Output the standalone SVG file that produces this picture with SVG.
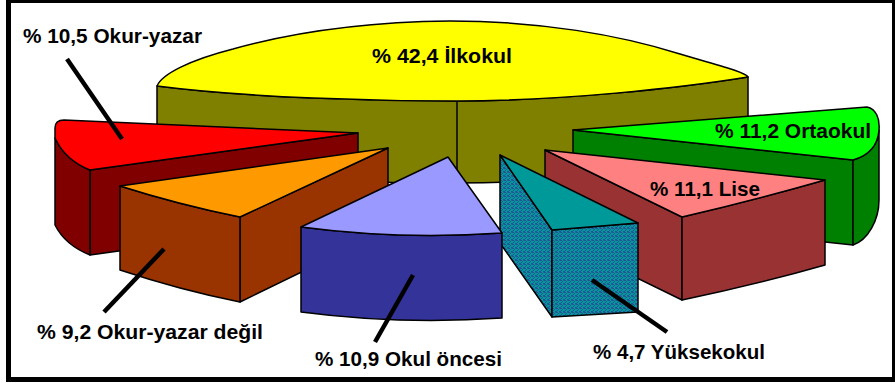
<svg xmlns="http://www.w3.org/2000/svg" width="895" height="383" viewBox="0 0 895 383">
<defs>
<pattern id="dith" width="4" height="4" patternUnits="userSpaceOnUse">
<rect width="4" height="4" fill="#009a9a"/>
<rect x="0" y="0" width="1" height="1" fill="#2a4f9a"/>
<rect x="2" y="1" width="1" height="1" fill="#2a4f9a"/>
<rect x="1" y="2" width="1" height="1" fill="#2a4f9a"/>
<rect x="3" y="3" width="1" height="1" fill="#2a4f9a"/>
<rect x="3" y="0" width="1" height="1" fill="#1d6f8a"/>
<rect x="1" y="0" width="1" height="1" fill="#2a4f9a"/>
<rect x="0" y="3" width="1" height="1" fill="#2a4f9a"/>
</pattern>
<style>
.s{stroke:#000;stroke-width:1.5;stroke-linejoin:round}
.t{font-family:"Liberation Sans",Arial,sans-serif;font-weight:bold;font-size:21px;fill:#000}
.ld{stroke:#000;stroke-width:4.5;fill:none}
</style>
</defs>
<rect width="895" height="383" fill="#fff"/>
<rect x="8.5" y="0.5" width="886" height="379" fill="none" stroke="#000" stroke-width="5"/>

<g id="ilkokul">
<path class="s" fill="#808000" d="M157,86 C250,98 380,101 457,101 C560,101 680,88 748,77 L748,160 C680,171 560,183 457,183 C380,183 250,180 157,168 Z"/>
<path class="s" fill="none" d="M457,101 L457,183"/>
<path class="s" fill="#ffff00" d="M157,86 C162,74 190,60 233,49 C290,33 360,22 450,21 C540,21 620,35 680,54 C720,66 745,72 748,77 C680,88 560,101 457,101 C380,101 250,98 157,86 Z"/>
<text class="t" x="372" y="63" textLength="140" lengthAdjust="spacingAndGlyphs">% 42,4 İlkokul</text>
</g>

<g id="ortaokul">
<path class="s" fill="#008000" d="M573,130 L853,160 L853,245 L573,215 Z"/>
<path class="s" fill="#008000" d="M853,160 C870,155 878,145 879,130 L879,200 C879,220 868,240 853,245 Z"/>
<path class="s" fill="#00ff00" d="M573,130 L867,107 C876,109 880,118 879,130 C878,145 870,155 853,160 Z"/>
<text class="t" x="715" y="138" textLength="156" lengthAdjust="spacingAndGlyphs">% 11,2 Ortaokul</text>
</g>

<g id="lise">
<path class="s" fill="#993333" d="M545,150 L682,217 L682,300 L545,233 Z"/>
<path class="s" fill="#993333" d="M682,217 Q755,200 825,180 L825,265 Q755,285 682,300 Z"/>
<path class="s" fill="#ff8080" d="M545,150 L825,180 Q755,200 682,217 Z"/>
<text class="t" x="650" y="196" textLength="110" lengthAdjust="spacingAndGlyphs">% 11,1 Lise</text>
</g>

<g id="yuksekokul">
<path class="s" fill="url(#dith)" d="M500,155 L552,230 L552,317 L500,243 Z"/>
<path class="s" fill="url(#dith)" d="M552,230 L638,223 L638,312 L552,317 Z"/>
<path class="s" fill="#009999" d="M500,155 L638,223 L552,230 Z"/>
<text class="t" x="593" y="359" textLength="172" lengthAdjust="spacingAndGlyphs">% 4,7 Yüksekokul</text>
</g>

<g id="okur-yazar">
<path class="s" fill="#800000" d="M90,170 L358,133 L358,218 L90,255 Z"/>
<path class="s" fill="#800000" d="M90,170 Q65,160 55,138 L55,225 Q65,245 90,255 Z"/>
<path class="s" fill="#ff0000" d="M358,133 L64,120 Q55,120 55,128 L55,138 Q65,160 90,170 Z"/>
<text class="t" x="23" y="43" textLength="179" lengthAdjust="spacingAndGlyphs">% 10,5 Okur-yazar</text>
</g>

<g id="okur-yazar-degil">
<path class="s" fill="#993300" d="M240,217 L388,148 L388,230 L240,302 Z"/>
<path class="s" fill="#993300" d="M120,186 Q180,205 240,217 L240,302 Q180,290 120,270 Z"/>
<path class="s" fill="#ff9900" d="M388,148 L120,186 Q180,205 240,217 Z"/>
<text class="t" x="37" y="339" textLength="226" lengthAdjust="spacingAndGlyphs">% 9,2 Okur-yazar değil</text>
</g>

<g id="okul-oncesi">
<path class="s" fill="#333399" d="M301,227 Q400,240 502,233 L502,318 Q400,325 301,312 Z"/>
<path class="s" fill="#9999ff" d="M448,157 L301,227 Q400,240 502,233 Z"/>
<text class="t" x="315" y="366" textLength="187" lengthAdjust="spacingAndGlyphs">% 10,9 Okul öncesi</text>
</g>

<g id="connectors">
<line class="ld" x1="67" y1="59" x2="122" y2="139"/>
<line class="ld" x1="164" y1="249" x2="104" y2="312"/>
<line class="ld" x1="413" y1="275" x2="375" y2="342"/>
<line class="ld" x1="592" y1="280" x2="667" y2="332"/>
</g>
</svg>
